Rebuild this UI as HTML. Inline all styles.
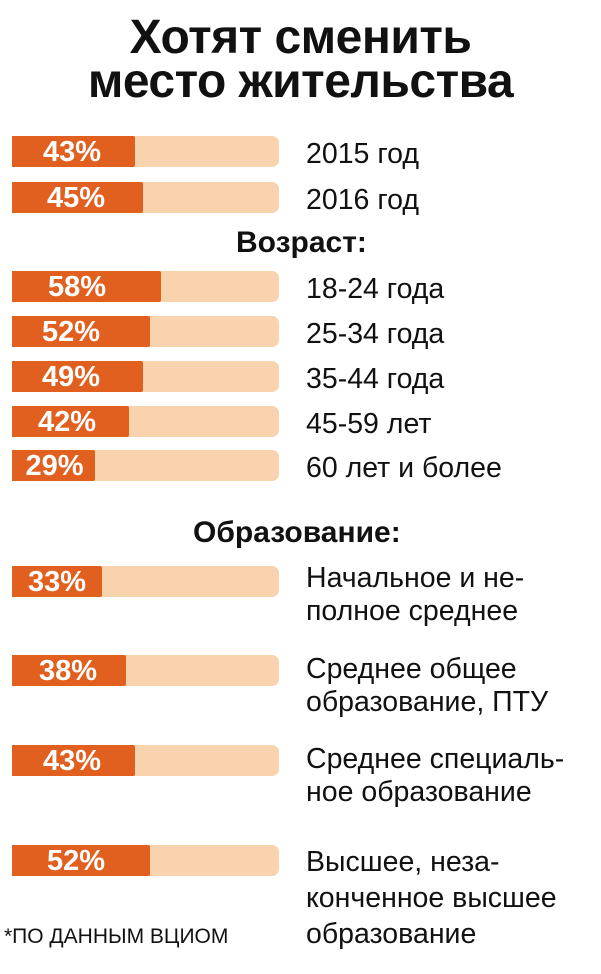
<!DOCTYPE html>
<html><head><meta charset="utf-8"><style>
body{margin:0;width:601px;height:974px;background:#fff;position:relative;overflow:hidden;font-family:"Liberation Sans","DejaVu Sans",sans-serif;color:#111}
.t{position:absolute;left:0;width:601px;text-align:center;font-weight:bold;font-size:48px;line-height:44px;letter-spacing:-0.5px}
.tr{position:absolute;left:12px;width:267px;height:31px;background:#f8d3ad;border-radius:0 7px 7px 0}
.b{position:absolute;left:0;top:0;height:31px;background:#e2601f;border-radius:0 2px 2px 0}
.p{position:absolute;left:12px;width:123px;height:31px;line-height:33px;color:#fff;font-weight:bold;font-size:29px;text-align:center}
.l{position:absolute;left:306px;font-size:28.5px;line-height:33px;white-space:nowrap}
.h{position:absolute;font-weight:bold;font-size:30px;white-space:nowrap}
</style></head><body>
<div class="t" style="top:16px">Хотят сменить</div>
<div class="t" style="top:60px">место жительства</div>

<div class="tr" style="top:136px"><div class="b" style="width:123px"></div></div><div class="p" style="top:136px;width:120px">43%</div><div class="l" style="top:138px">2015 год</div>
<div class="tr" style="top:182px"><div class="b" style="width:131px"></div></div><div class="p" style="top:182px;width:128px">45%</div><div class="l" style="top:184px">2016 год</div>
<div class="h" style="left:236px;top:226px">Возраст:</div>
<div class="tr" style="top:271px"><div class="b" style="width:149px"></div></div><div class="p" style="top:271px;width:130px">58%</div><div class="l" style="top:273px">18-24 года</div>
<div class="tr" style="top:316px"><div class="b" style="width:138px"></div></div><div class="p" style="top:316px;width:118px">52%</div><div class="l" style="top:318px">25-34 года</div>
<div class="tr" style="top:361px"><div class="b" style="width:131px"></div></div><div class="p" style="top:361px;width:118px">49%</div><div class="l" style="top:363px">35-44 года</div>
<div class="tr" style="top:406px"><div class="b" style="width:117px"></div></div><div class="p" style="top:406px;width:110px">42%</div><div class="l" style="top:408px">45-59 лет</div>
<div class="tr" style="top:450px"><div class="b" style="width:83px"></div></div><div class="p" style="top:450px;width:85px">29%</div><div class="l" style="top:452px">60 лет и более</div>
<div class="h" style="left:193px;top:516px">Образование:</div>
<div class="tr" style="top:566px"><div class="b" style="width:90px"></div></div><div class="p" style="top:566px;width:90px">33%</div><div class="l" style="top:562px">Начальное и не-<br>полное среднее</div>
<div class="tr" style="top:655px"><div class="b" style="width:114px"></div></div><div class="p" style="top:655px;width:112px">38%</div><div class="l" style="top:653px">Среднее общее<br>образование, ПТУ</div>
<div class="tr" style="top:745px"><div class="b" style="width:123px"></div></div><div class="p" style="top:745px;width:120px">43%</div><div class="l" style="top:743px">Среднее специаль-<br>ное образование</div>
<div class="tr" style="top:845px"><div class="b" style="width:138px"></div></div><div class="p" style="top:845px;width:128px">52%</div><div class="l" style="top:844px;line-height:36px">Высшее, неза-<br>конченное высшее<br>образование</div>
<div style="position:absolute;left:4px;top:925px;font-size:21px;white-space:nowrap">*ПО ДАННЫМ ВЦИОМ</div>
</body></html>
